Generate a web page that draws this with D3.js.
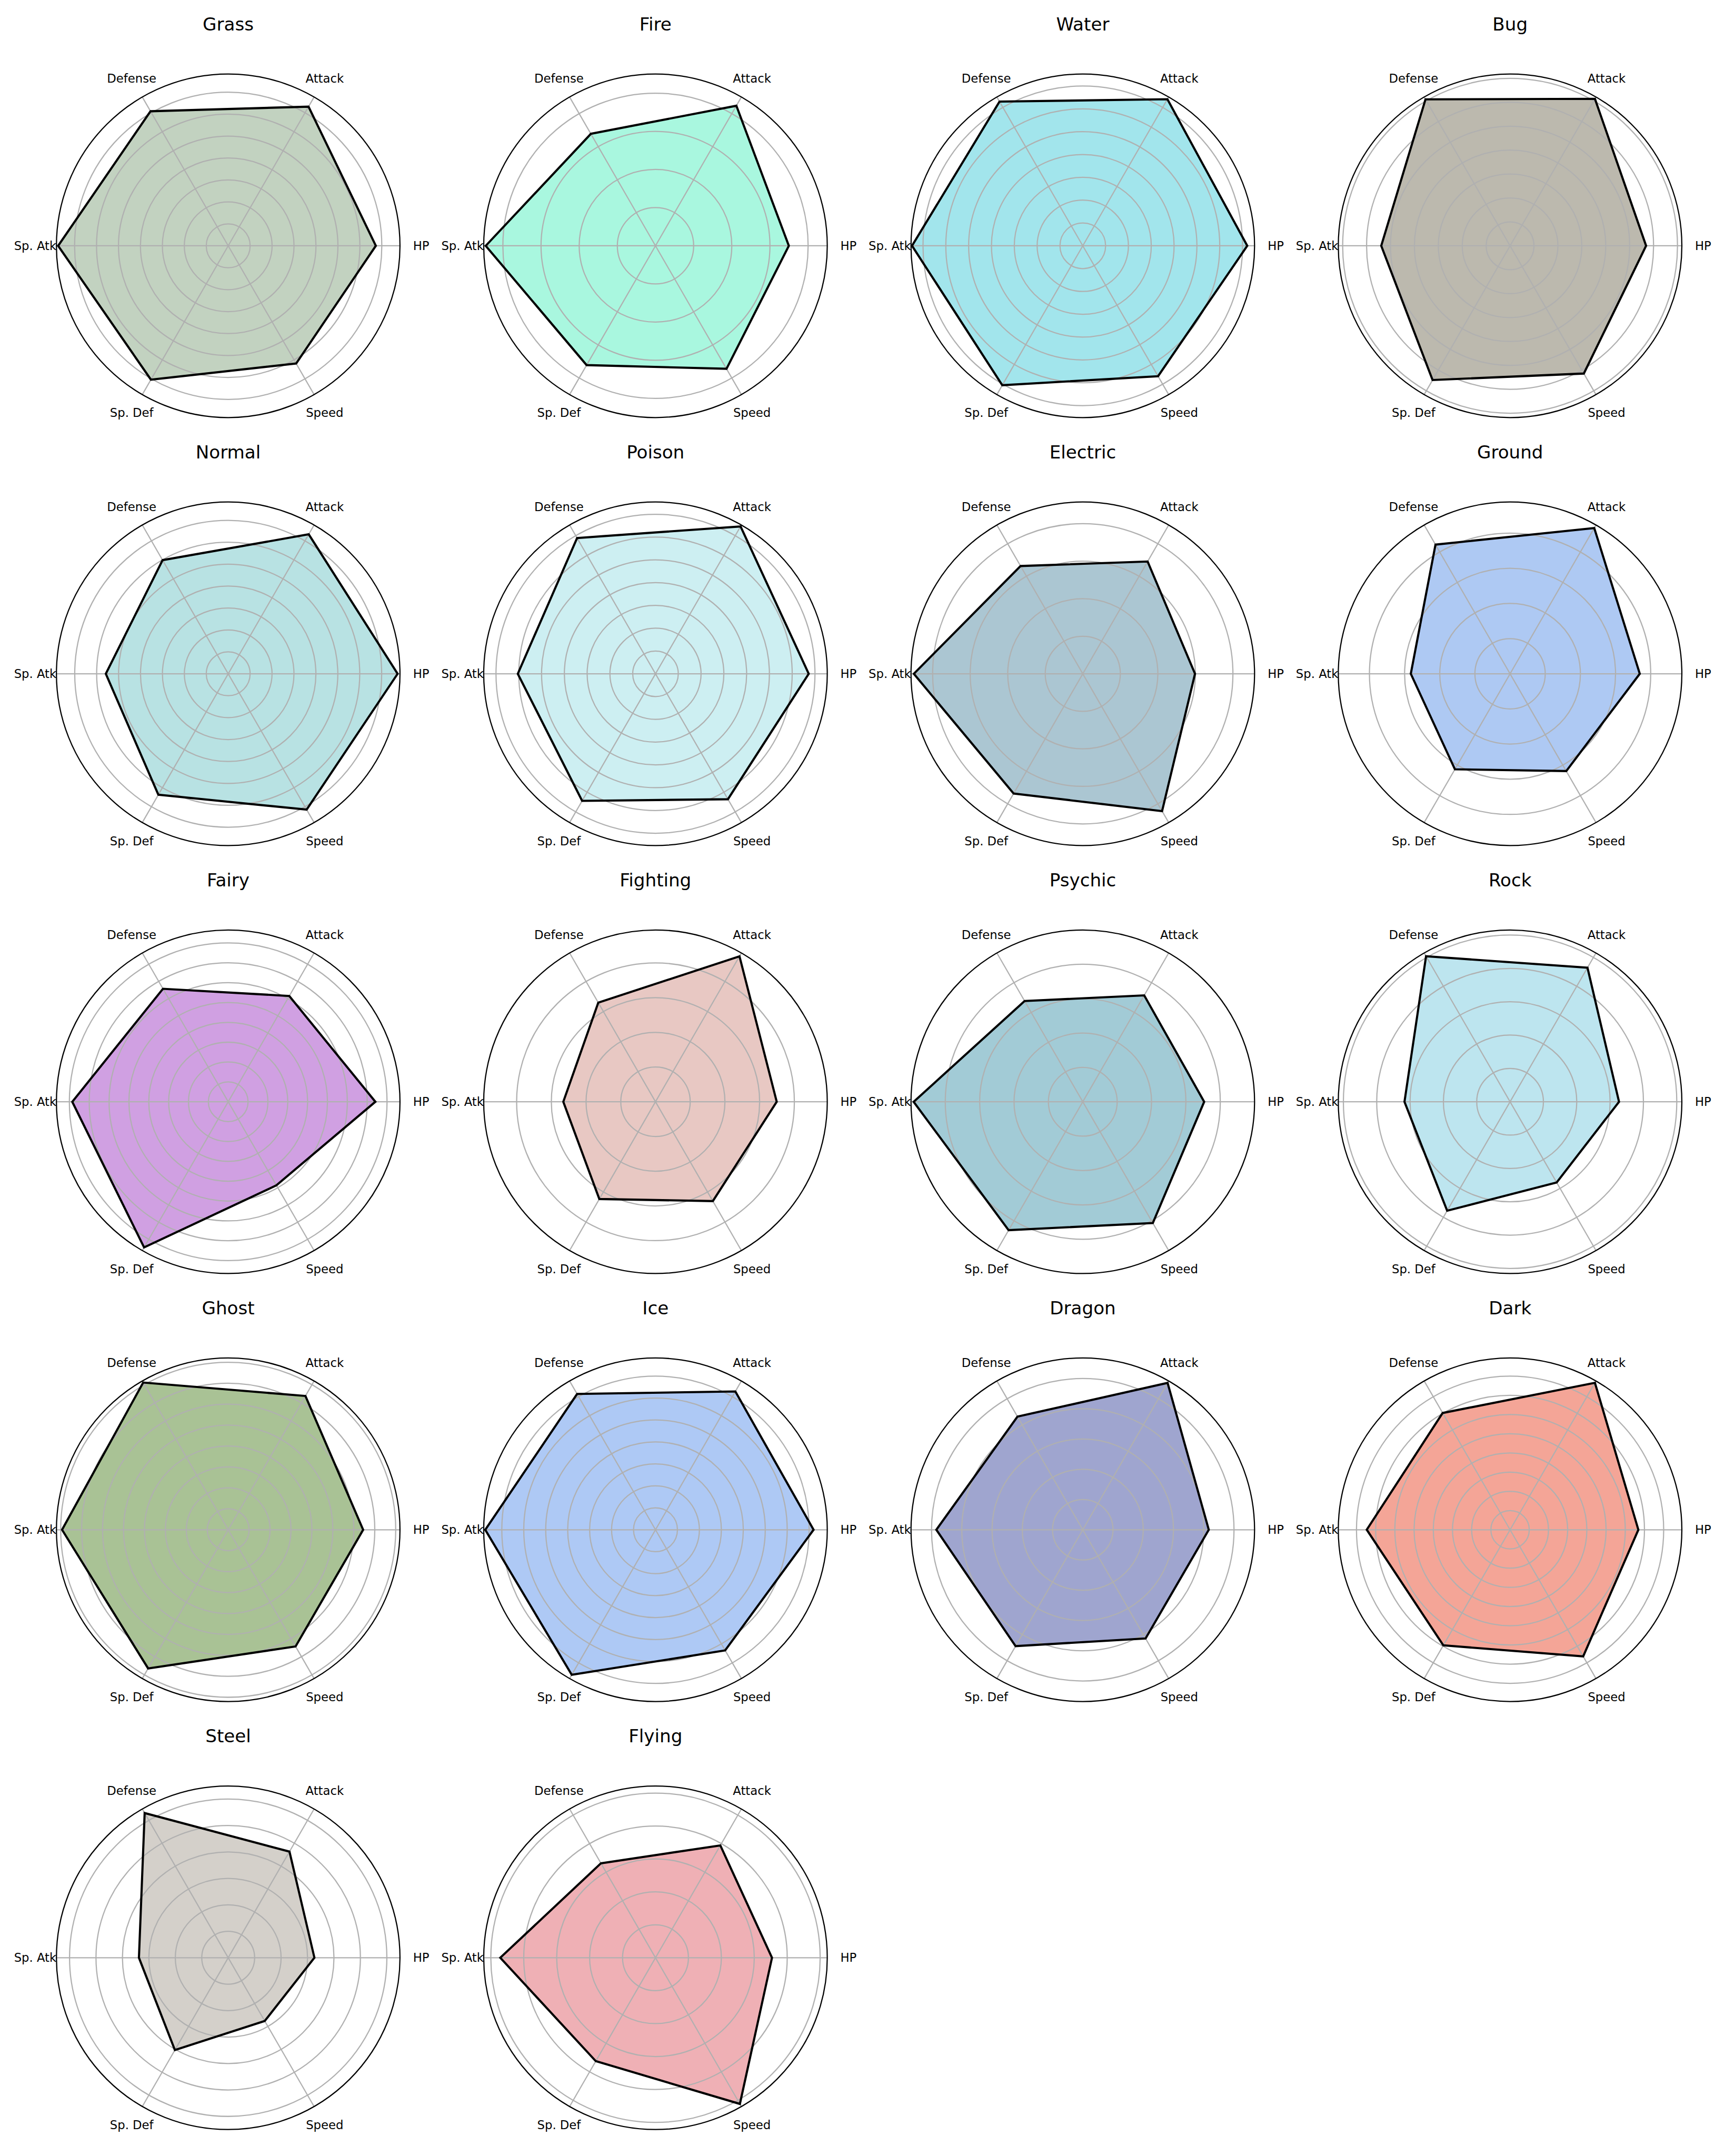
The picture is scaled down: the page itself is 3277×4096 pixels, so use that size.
<!DOCTYPE html>
<html><head><meta charset="utf-8">
<script src="https://cdn.jsdelivr.net/npm/d3@7"></script>
<style>html,body{margin:0;padding:0;background:#fff;}svg{display:block;}</style>
</head><body><svg id="chart"></svg>
<script>
// ---- data (mean base stats by primary type) ----
const types = ["Grass","Fire","Water","Bug","Normal","Poison","Electric","Ground","Fairy","Fighting","Psychic","Rock","Ghost","Ice","Dragon","Dark","Steel","Flying"];
const stats = ["HP","Attack","Defense","Sp. Atk","Sp. Def","Speed"];
const hp      = [67.27, 69.90, 72.06, 56.88, 77.28, 67.25, 59.80, 73.78, 74.12, 69.85, 70.63, 65.36, 64.44, 72.00, 83.31, 66.81, 65.22, 70.75];
const attack  = [73.21, 84.77, 74.15, 70.97, 73.47, 74.68, 69.09, 95.75, 61.53, 96.78, 71.46, 92.86, 73.78, 72.75, 112.13, 88.39, 92.70, 78.75];
const defense = [70.80, 67.77, 72.95, 70.72, 59.85, 68.82, 66.30, 84.84, 65.71, 65.93, 67.68, 100.80, 81.19, 71.42, 86.38, 70.23, 126.37, 66.25];
const spAtk   = [77.50, 88.98, 74.81, 53.87, 55.82, 60.43, 90.02, 56.47, 78.53, 53.11, 98.40, 63.34, 79.34, 77.54, 96.84, 74.65, 67.52, 94.25];
const spDef   = [70.43, 72.21, 70.52, 64.80, 63.72, 64.39, 73.70, 62.75, 84.71, 64.70, 86.28, 75.48, 76.47, 76.29, 88.84, 69.52, 80.63, 72.50];
const speed   = [61.93, 74.44, 65.96, 61.68, 71.55, 63.57, 84.50, 63.91, 48.59, 66.07, 81.49, 55.91, 64.34, 63.46, 83.03, 76.16, 55.26, 102.50];
const fillColors = ["#c2d2c0","#a9f7df","#a2e5ec","#bcb9ae","#b8e2e3","#cdeff2","#abc6d2","#aec9f3","#d0a0e2","#e8c8c3","#a2cbd6","#bde5ef","#a9c295","#aec9f5","#9fa5cf","#f4a597","#d4d0ca","#efb0b5"];

// ---- layout ----
const K = 0.6827;
const W = 3277, H = 4096;
const R = 478 * K;
const svg = d3.select("#chart").attr("width", W).attr("height", H)
  .style("font-family", "'DejaVu Sans', sans-serif");
svg.append("rect").attr("width", W).attr("height", H).attr("fill", "#fff");

// matplotlib-like radial tick locator (nbins = 9)
function radialTicks(rmax) {
  const raw = rmax / 9;
  const scale = Math.pow(10, Math.floor(Math.log10(raw)));
  const step = [1, 2, 2.5, 5, 10, 20].map(s => s * scale).find(s => s >= raw);
  const t = [];
  for (let v = step; v <= rmax + 1e-9; v += step) t.push(v);
  return t;
}

const theta = d3.scaleLinear().domain([0, stats.length]).range([0, 2 * Math.PI]);

types.forEach((type, i) => {
  const col = i % 4, row = Math.floor(i / 4);
  const cx = (635 + 1189 * col) * K, cy = (684 + 1191 * row) * K;
  const values = [hp[i], attack[i], defense[i], spAtk[i], spDef[i], speed[i]];
  const vmin = d3.min(values), vmax = d3.max(values);
  const rmax = vmax + 0.05 * (vmax - vmin);
  const r = d3.scaleLinear().domain([0, rmax]).range([0, R]);
  const g = svg.append("g").attr("transform", `translate(${cx},${cy})`);

  const radial = d3.lineRadial()
    .angle((d, j) => Math.PI / 2 - theta(j))
    .radius(d => r(d))
    .curve(d3.curveLinearClosed);

  // fill
  g.append("path").attr("d", radial(values)).attr("fill", fillColors[i]).attr("stroke", "none");

  // grid rings
  g.selectAll("circle.ring").data(radialTicks(rmax)).join("circle")
    .attr("class", "ring").attr("r", d => r(d))
    .attr("fill", "none").attr("stroke", "#b0b0b0").attr("stroke-width", 3.3 * K);

  // spokes
  g.selectAll("line.spoke").data(stats).join("line")
    .attr("class", "spoke")
    .attr("x1", 0).attr("y1", 0)
    .attr("x2", (d, j) => R * Math.cos(theta(j)))
    .attr("y2", (d, j) => -R * Math.sin(theta(j)))
    .attr("stroke", "#b0b0b0").attr("stroke-width", 3.3 * K);

  // outline
  g.append("path").attr("d", radial(values)).attr("fill", "none")
    .attr("stroke", "#000").attr("stroke-width", 6 * K).attr("stroke-linejoin", "miter");

  // outer spine
  g.append("circle").attr("r", R).attr("fill", "none").attr("stroke", "#000").attr("stroke-width", 3.3 * K);

  // axis labels
  g.selectAll("text.lab").data(stats).join("text")
    .attr("class", "lab")
    .attr("x", (d, j) => 537 * K * Math.cos(theta(j)))
    .attr("y", (d, j) => -537 * K * Math.sin(theta(j)))
    .attr("text-anchor", "middle").attr("dominant-baseline", "central")
    .attr("font-size", 33.3 * K).attr("fill", "#000")
    .text(d => d);

  // title
  g.append("text").attr("x", 0).attr("y", -599 * K)
    .attr("text-anchor", "middle").attr("font-size", 50 * K).attr("fill", "#000")
    .text(type);
});
</script></body></html>
